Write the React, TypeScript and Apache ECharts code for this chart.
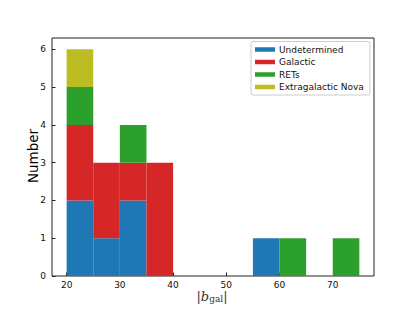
import React, { useEffect, useRef } from "react";
import * as echarts from "echarts";

const binStarts = [20, 25, 30, 35, 40, 45, 50, 55, 60, 65, 70];
const binWidth = 5;
const undetermined = [2, 1, 2, 0, 0, 0, 0, 1, 0, 0, 0];
const galactic = [2, 2, 1, 3, 0, 0, 0, 0, 0, 0, 0];
const rets = [1, 0, 1, 0, 0, 0, 0, 0, 1, 0, 1];
const extragalacticNova = [1, 0, 0, 0, 0, 0, 0, 0, 0, 0, 0];
const seriesNames = ["Undetermined", "Galactic", "RETs", "Extragalactic Nova"];
const seriesColors = ["#1f77b4", "#d62728", "#2ca02c", "#bcbd22"];
const xTicks = [20, 30, 40, 50, 60, 70];
const yTicks = [0, 1, 2, 3, 4, 5, 6];

export default function App() {
  const ref = useRef<HTMLDivElement>(null);
  useEffect(() => {
    if (!ref.current) return;
    const chart = echarts.init(ref.current, null, { renderer: "svg" });
    const all = [undetermined, galactic, rets, extragalacticNova];
    const base = binStarts.map(() => 0);
    const series = all.map((vals, si) => {
      const data: number[][] = [];
      vals.forEach((v, i) => {
        if (v > 0) {
          data.push([binStarts[i], binStarts[i] + binWidth, base[i], base[i] + v]);
        }
        base[i] += v;
      });
      return {
        type: "custom",
        name: seriesNames[si],
        itemStyle: { color: seriesColors[si] },
        data,
        encode: { x: [0, 1], y: [2, 3] },
        renderItem: (params: any, api: any) => {
          const p0 = api.coord([api.value(0), api.value(2)]);
          const p1 = api.coord([api.value(1), api.value(3)]);
          return {
            type: "rect",
            shape: { x: p0[0], y: p1[1], width: p1[0] - p0[0], height: p0[1] - p1[1] },
            style: { fill: seriesColors[si] },
          };
        },
      };
    });
    const font = "DejaVu Sans";
    chart.setOption({
      animation: false,
      grid: {
        left: 52,
        right: 41,
        top: 38,
        bottom: 35,
        show: true,
        borderColor: "#222",
        borderWidth: 1,
        backgroundColor: "transparent",
      },
      xAxis: {
        type: "value",
        min: 17.25,
        max: 77.75,
        splitLine: { show: false },
        axisLine: { show: false },
        axisTick: { show: true, inside: true, length: 3.5, customValues: xTicks, lineStyle: { color: "#222" } },
        axisLabel: { customValues: xTicks, fontFamily: font, fontSize: 9, color: "#111", margin: 4 },
      },
      yAxis: {
        type: "value",
        min: 0,
        max: 6.3,
        splitLine: { show: false },
        axisLine: { show: false },
        axisTick: { show: true, inside: true, length: 3.5, customValues: yTicks, lineStyle: { color: "#222" } },
        axisLabel: { customValues: yTicks, fontFamily: font, fontSize: 9, color: "#111", margin: 6 },
      },
      legend: {
        orient: "vertical",
        left: 251,
        top: 41.5,
        padding: [3, 6, 3, 4],
        itemWidth: 20,
        itemHeight: 4.5,
        itemGap: 2.5,
        icon: "rect",
        backgroundColor: "rgba(255,255,255,0.8)",
        borderColor: "#cccccc",
        borderWidth: 1,
        borderRadius: 2,
        textStyle: { fontFamily: font, fontSize: 9, lineHeight: 10, color: "#111", padding: [0, 0, 0, -1] },
        data: seriesNames,
      },
      graphic: [
        {
          type: "text",
          x: 33,
          y: 156,
          rotation: Math.PI / 2,
          style: {
            text: "Number",
            fontFamily: font,
            fontSize: 13.5,
            fill: "#000",
            textAlign: "center",
            textVerticalAlign: "middle",
          },
        },
        {
          type: "text",
          x: 212,
          y: 296,
          style: {
            text: "{p||}{b|b}{s|gal}{p||}",
            textAlign: "center",
            textVerticalAlign: "middle",
            rich: {
              p: { fontFamily: "DejaVu Serif", fontSize: 13, fill: "#333" },
              b: { fontFamily: "DejaVu Serif", fontSize: 13, fontStyle: "italic", fill: "#333" },
              s: { fontFamily: "DejaVu Serif", fontSize: 9, fill: "#333", padding: [5, 0, 0, 0] },
            },
          },
        },
      ],
      series,
    });
    return () => chart.dispose();
  }, []);
  return <div ref={ref} style={{ width: 415, height: 311, position: "absolute", left: 0, top: 0 }} />;
}
